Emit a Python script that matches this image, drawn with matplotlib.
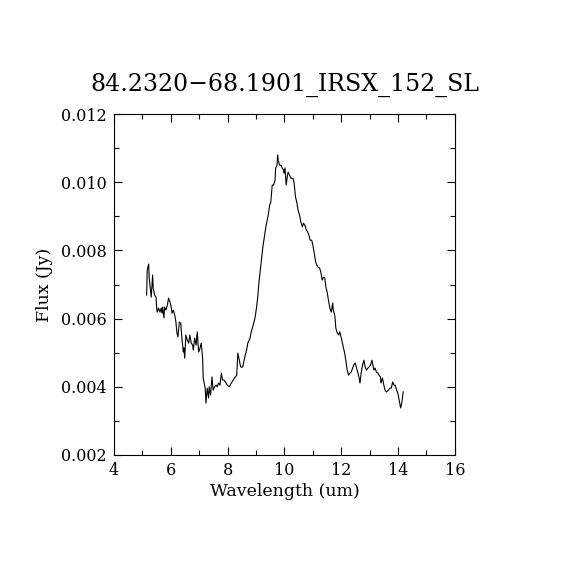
import numpy as np
import matplotlib
matplotlib.use("Agg")
import matplotlib.pyplot as plt
from matplotlib.ticker import MultipleLocator

# spectrum
wave = [5.15, 5.17, 5.22, 5.24, 5.31, 5.36, 5.38, 5.43, 5.48, 5.50,
        5.52, 5.57, 5.62, 5.66, 5.69, 5.71, 5.76, 5.78, 5.83, 5.88,
        5.92, 5.97, 6.02, 6.04, 6.09, 6.14, 6.18, 6.21, 6.25, 6.30,
        6.35, 6.39, 6.44, 6.46, 6.49, 6.53, 6.58, 6.63, 6.67, 6.72,
        6.77, 6.79, 6.84, 6.89, 6.93, 6.98, 7.03, 7.07, 7.12, 7.14,
        7.21, 7.24, 7.28, 7.33, 7.35, 7.40, 7.45, 7.49, 7.54, 7.59,
        7.63, 7.68, 7.73, 7.78, 7.82, 7.87, 7.92, 7.99, 8.06, 8.13,
        8.20, 8.27, 8.32, 8.36, 8.41, 8.46, 8.53, 8.57, 8.62, 8.67,
        8.71, 8.79, 8.83, 8.88, 8.93, 8.97, 9.02, 9.06, 9.10, 9.15,
        9.20, 9.24, 9.29, 9.34, 9.38, 9.43, 9.48, 9.52, 9.57, 9.62,
        9.67, 9.69, 9.74, 9.76, 9.78, 9.83, 9.88, 9.92, 9.97, 9.99,
        10.02, 10.06, 10.11, 10.13, 10.18, 10.23, 10.30, 10.34, 10.39, 10.44,
        10.48, 10.53, 10.58, 10.63, 10.67, 10.72, 10.77, 10.82, 10.86, 10.91,
        10.96, 11.00, 11.05, 11.10, 11.14, 11.19, 11.24, 11.28, 11.33, 11.38,
        11.42, 11.46, 11.51, 11.55, 11.60, 11.65, 11.70, 11.72, 11.77, 11.79,
        11.81, 11.86, 11.91, 11.95, 12.02, 12.07, 12.12, 12.16, 12.21, 12.26,
        12.30, 12.35, 12.40, 12.44, 12.49, 12.54, 12.59, 12.63, 12.66, 12.70,
        12.75, 12.80, 12.84, 12.89, 12.94, 12.98, 13.03, 13.08, 13.10, 13.15,
        13.19, 13.24, 13.29, 13.33, 13.38, 13.40, 13.45, 13.50, 13.54, 13.59,
        13.66, 13.71, 13.76, 13.81, 13.85, 13.90, 13.95, 13.99, 14.04, 14.09,
        14.13, 14.18]
flux = [0.00669, 0.00742, 0.00760, 0.00719, 0.00663, 0.00728, 0.00690, 0.00669, 0.00663, 0.00634,
        0.00619, 0.00631, 0.00619, 0.00631, 0.00616, 0.00634, 0.00602, 0.00634, 0.00625, 0.00640,
        0.00660, 0.00649, 0.00631, 0.00616, 0.00625, 0.00610, 0.00590, 0.00561, 0.00546, 0.00590,
        0.00587, 0.00543, 0.00502, 0.00514, 0.00484, 0.00552, 0.00537, 0.00528, 0.00552, 0.00528,
        0.00522, 0.00508, 0.00543, 0.00522, 0.00561, 0.00502, 0.00514, 0.00528, 0.00484, 0.00426,
        0.00396, 0.00352, 0.00396, 0.00367, 0.00400, 0.00376, 0.00429, 0.00390, 0.00400, 0.00405,
        0.00400, 0.00411, 0.00405, 0.00440, 0.00420, 0.00420, 0.00414, 0.00405, 0.00400, 0.00411,
        0.00420, 0.00429, 0.00434, 0.00499, 0.00478, 0.00458, 0.00458, 0.00473, 0.00493, 0.00508,
        0.00528, 0.00543, 0.00561, 0.00575, 0.00590, 0.00605, 0.00634, 0.00663, 0.00704, 0.00742,
        0.00781, 0.00810, 0.00839, 0.00866, 0.00883, 0.00904, 0.00933, 0.00942, 0.00992, 0.00992,
        0.01006, 0.01042, 0.01050, 0.01080, 0.01065, 0.01050, 0.01050, 0.01042, 0.01036, 0.01027,
        0.01042, 0.00992, 0.01021, 0.01030, 0.01021, 0.01012, 0.01012, 0.00998, 0.00957, 0.00939,
        0.00918, 0.00904, 0.00883, 0.00869, 0.00880, 0.00874, 0.00860, 0.00854, 0.00845, 0.00830,
        0.00830, 0.00816, 0.00792, 0.00766, 0.00757, 0.00751, 0.00748, 0.00737, 0.00713, 0.00722,
        0.00719, 0.00693, 0.00675, 0.00654, 0.00631, 0.00619, 0.00646, 0.00625, 0.00610, 0.00596,
        0.00572, 0.00558, 0.00552, 0.00561, 0.00537, 0.00517, 0.00499, 0.00478, 0.00449, 0.00434,
        0.00440, 0.00443, 0.00455, 0.00464, 0.00470, 0.00455, 0.00440, 0.00426, 0.00411, 0.00440,
        0.00464, 0.00478, 0.00458, 0.00449, 0.00455, 0.00458, 0.00464, 0.00478, 0.00470, 0.00449,
        0.00455, 0.00443, 0.00440, 0.00434, 0.00429, 0.00411, 0.00426, 0.00405, 0.00390, 0.00385,
        0.00390, 0.00396, 0.00396, 0.00414, 0.00405, 0.00405, 0.00390, 0.00382, 0.00361, 0.00338,
        0.00352, 0.00385]

title = "84.2320\u221268.1901_IRSX_152_SL"

plt.rcParams['font.family'] = ['DejaVu Serif']

fig = plt.figure(figsize=(5.7, 5.7), dpi=100)
ax = fig.add_axes([0.2, 0.2018, 0.598, 0.598])
ax.plot(wave, flux, color='black', lw=0.8)

ax.set_xlim(4, 16)
ax.set_ylim(0.002, 0.012)
ax.xaxis.set_major_locator(MultipleLocator(2))
ax.xaxis.set_minor_locator(MultipleLocator(1))
ax.yaxis.set_major_locator(MultipleLocator(0.002))
ax.yaxis.set_minor_locator(MultipleLocator(0.001))
ax.yaxis.set_major_formatter(plt.FuncFormatter(lambda v, p: "%.3f" % v))
ax.tick_params(which='both', direction='in', top=True, right=True,
               labelsize=11.5, width=0.8, color='black')
ax.tick_params(which='major', length=6, pad=5)
ax.tick_params(which='minor', length=3.5)
for s in ax.spines.values():
    s.set_linewidth(0.8)

ax.set_xlabel("Wavelength (um)", fontsize=12.5, labelpad=3)
ax.set_ylabel("Flux (Jy)", fontsize=12.5, labelpad=6)
ax.set_title(title, fontsize=17, pad=17)

fig.savefig("out.png", dpi=100)
